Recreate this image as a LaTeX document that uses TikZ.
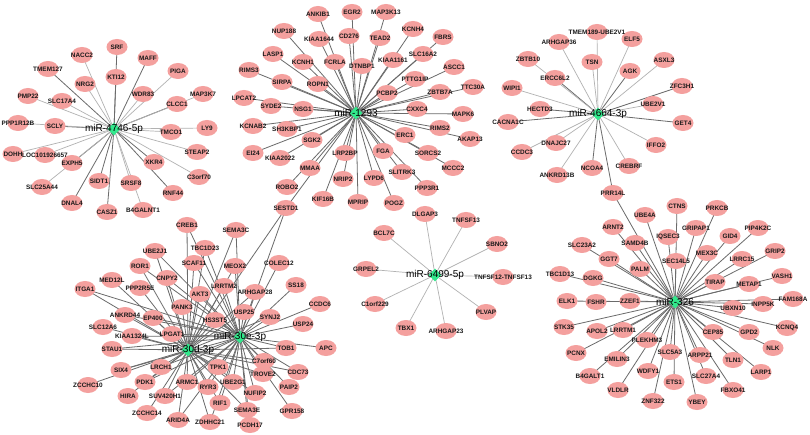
\documentclass[tikz,border=0pt]{standalone}
\usepackage{fontspec}
\setmainfont{Liberation Sans}
\usetikzlibrary{shapes.geometric}
\pgfdeclarelayer{bg}\pgfdeclarelayer{fg}
\pgfsetlayers{bg,main,fg}
\definecolor{nodepink}{RGB}{244,160,158}
\definecolor{mirgreen}{RGB}{50,232,140}
\tikzset{
 gene/.style={ellipse, fill=nodepink, minimum width=21pt, minimum height=16pt, inner sep=0pt},
 lbl/.style={font=\fontsize{6.4}{7}\selectfont\bfseries, inner sep=0pt, text=black!90},
 mir/.style={diamond, fill=mirgreen, minimum width=13pt, minimum height=13pt, inner sep=0pt},
 mlbl/.style={font=\fontsize{10}{11}\selectfont, inner sep=0pt, text=black},
 ed/.style={draw=black!58, line width=0.8pt},
 el/.style={draw=black!30, line width=0.7pt},
}
\newcommand\G[3]{\node[gene] (#1) at (#2) {};\begin{pgfonlayer}{fg}\node[lbl] (#1-t) at (#2) {#3};\end{pgfonlayer}}
\newcommand\M[3]{\node[mir] (#1) at (#2) {};\begin{pgfonlayer}{fg}\node[mlbl] (#1-t) at (#2) {#3};\end{pgfonlayer}}
\newcommand\E[3]{\foreach \t in {#3} {\draw[#1] (#2.center) -- (\t.center);}}
\begin{document}
\begin{tikzpicture}[x=1pt,y=-1pt]
\useasboundingbox (0,0) rectangle (810,435);
\begin{pgfonlayer}{bg}\fill[white] (0,0) rectangle (810,435);\end{pgfonlayer}
% ---------- miR-4746-5p
\M{m4746}{114,129}{miR-4746-5p}
\G{SRF}{117,47}{SRF}\G{KTI12}{116,77}{KTI12}\G{NACC2}{82,55}{NACC2}\G{MAFF}{148,58}{MAFF}
\G{TMEM127}{48,69}{TMEM127}\G{PIGA}{178,71}{PIGA}\G{NRG2}{85,84}{NRG2}\G{WDR83}{143,94}{WDR83}
\G{MAP3K7}{203,94}{MAP3K7}\G{PMP22}{28,96}{PMP22}\G{SLC17A4}{62,101}{SLC17A4}\G{CLCC1}{177,104}{CLCC1}
\G{PPP1R12B}{18,123}{PPP1R12B}\G{SCLY}{55,126}{SCLY}\G{TMCO1}{171,132}{TMCO1}\G{LY9}{207,128}{LY9}
\G{DOHH}{13,154}{DOHH}\G{LOC101926657}{45,155}{LOC101926657}\G{EXPH5}{72,163}{EXPH5}\G{XKR4}{154,162}{XKR4}
\G{STEAP2}{197,152}{STEAP2}\G{C3orf70}{199,177}{C3orf70}\G{SLC25A44}{42,187}{SLC25A44}\G{SIDT1}{99,181}{SIDT1}
\G{SRSF8}{131,183}{SRSF8}\G{RNF44}{173,193}{RNF44}\G{DNAL4}{72,203}{DNAL4}\G{CASZ1}{107,212}{CASZ1}
\G{B4GALNT1}{143,210}{B4GALNT1}
% ---------- miR-1293
\M{m1293}{356,113}{miR-1293}
\G{ANKIB1}{318,14}{ANKIB1}\G{EGR2}{352,12}{EGR2}\G{MAP3K13}{386,12}{MAP3K13}\G{NUP188}{284,31}{NUP188}
\G{KIAA1644}{319,39}{KIAA1644}\G{CD276}{349,36}{CD276}\G{TEAD2}{380,38}{TEAD2}\G{KCNH4}{413,29}{KCNH4}
\G{LASP1}{273,54}{LASP1}\G{KCNH1}{303,62}{KCNH1}\G{FCRLA}{335,62}{FCRLA}\G{DTNBP1}{362,66}{DTNBP1}
\G{KIAA1161}{393,60}{KIAA1161}\G{FBRS}{443,37}{FBRS}\G{SLC16A2}{423,54}{SLC16A2}\G{RIMS3}{249,70}{RIMS3}
\G{SIRPA}{282,82}{SIRPA}\G{ROPN1}{318,84}{ROPN1}\G{PTTG1IP}{415,79}{PTTG1IP}\G{ASCC1}{454,67}{ASCC1}
\G{PCBP2}{387,93}{PCBP2}\G{ZBTB7A}{440,92}{ZBTB7A}\G{TTC30A}{473,87}{TTC30A}\G{LPCAT2}{244,98}{LPCAT2}
\G{SYDE2}{271,106}{SYDE2}\G{NSG1}{303,109}{NSG1}\G{CXXC4}{417,109}{CXXC4}\G{MAPK6}{463,114}{MAPK6}
\G{KCNAB2}{253,126}{KCNAB2}\G{SH3KBP1}{287,129}{SH3KBP1}\G{RIMS2}{440,128}{RIMS2}\G{AKAP13}{470,139}{AKAP13}
\G{ERC1}{405,135}{ERC1}\G{SGK2}{312,140}{SGK2}\G{EI24}{253,153}{EI24}\G{KIAA2022}{280,158}{KIAA2022}
\G{MMAA}{310,168}{MMAA}\G{LRP2BP}{345,153}{LRP2BP}\G{FGA}{383,151}{FGA}\G{SORCS2}{428,153}{SORCS2}
\G{MCCC2}{453,168}{MCCC2}\G{SLITRK3}{402,172}{SLITRK3}\G{PPP3R1}{427,188}{PPP3R1}\G{ROBO2}{287,187}{ROBO2}
\G{NRIP2}{343,179}{NRIP2}\G{LYPD6}{374,178}{LYPD6}\G{KIF16B}{323,199}{KIF16B}\G{MPRIP}{358,202}{MPRIP}
\G{POGZ}{394,203}{POGZ}\G{SESTD1}{286,208}{SESTD1}
% ---------- miR-4664-3p
\M{m4664}{598,114}{miR-4664-3p}
\G{TMEM189}{597,32}{TMEM189-UBE2V1}\G{ELF5}{632,39}{ELF5}\G{ARHGAP36}{559,42}{ARHGAP36}\G{TSN}{592,62}{TSN}
\G{ZBTB10}{528,59}{ZBTB10}\G{AGK}{630,71}{AGK}\G{ASXL3}{664,60}{ASXL3}\G{ERCC6L2}{555,78}{ERCC6L2}
\G{ZFC3H1}{682,86}{ZFC3H1}\G{WIPI1}{512,88}{WIPI1}\G{UBE2V1}{653,104}{UBE2V1}\G{HECTD3}{540,109}{HECTD3}
\G{CACNA1C}{508,122}{CACNA1C}\G{GET4}{683,123}{GET4}\G{DNAJC27}{556,143}{DNAJC27}\G{IFFO2}{656,145}{IFFO2}
\G{CCDC3}{522,152}{CCDC3}\G{ANKRD13B}{557,175}{ANKRD13B}\G{NCOA4}{592,168}{NCOA4}\G{CREBRF}{629,166}{CREBRF}
\G{PRR14L}{613,193}{PRR14L}
% ---------- miR-6499-5p
\M{m6499}{435,275}{miR-6499-5p}
\G{DLGAP3}{425,214}{DLGAP3}\G{TNFSF13}{466,220}{TNFSF13}\G{BCL7C}{384,233}{BCL7C}\G{SBNO2}{497,244}{SBNO2}
\G{GRPEL2}{366,269}{GRPEL2}\G{TNFSF12}{503,277}{TNFSF12-TNFSF13}\G{C1orf229}{375,304}{C1orf229}
\G{TBX1}{406,328}{TBX1}\G{ARHGAP23}{446,331}{ARHGAP23}\G{PLVAP}{486,312}{PLVAP}
% ---------- miR-326
\M{m326}{675,302}{miR-326}
\G{CTNS}{677,206}{CTNS}\G{PRKCB}{717,208}{PRKCB}\G{UBE4A}{645,215}{UBE4A}\G{ARNT2}{613,227}{ARNT2}
\G{GRIPAP1}{696,228}{GRIPAP1}\G{PIP4K2C}{758,228}{PIP4K2C}\G{IQSEC3}{668,237}{IQSEC3}\G{GID4}{730,236}{GID4}
\G{SAMD4B}{635,243}{SAMD4B}\G{SLC23A2}{582,245}{SLC23A2}\G{GRIP2}{775,251}{GRIP2}\G{MEX3C}{707,253}{MEX3C}
\G{GGT7}{609,259}{GGT7}\G{SEC14L5}{676,261}{SEC14L5}\G{LRRC15}{742,259}{LRRC15}\G{PALM}{640,269}{PALM}
\G{TBC1D13}{560,274}{TBC1D13}\G{DGKG}{593,278}{DGKG}\G{VASH1}{782,276}{VASH1}\G{TIRAP}{715,282}{TIRAP}
\G{METAP1}{749,284}{METAP1}\G{FAM168A}{793,299}{FAM168A}\G{ELK1}{567,301}{ELK1}\G{FSHR}{596,302}{FSHR}
\G{ZZEF1}{630,301}{ZZEF1}\G{INPP5K}{763,304}{INPP5K}\G{UBXN10}{733,308}{UBXN10}\G{KCNQ4}{787,328}{KCNQ4}
\G{STK35}{564,327}{STK35}\G{APOL2}{597,331}{APOL2}\G{LRRTM1}{623,330}{LRRTM1}\G{CEP85}{713,332}{CEP85}
\G{GPD2}{749,332}{GPD2}\G{PLEKHM3}{647,340}{PLEKHM3}\G{PCNX}{576,353}{PCNX}\G{NLK}{773,348}{NLK}
\G{EMILIN3}{617,359}{EMILIN3}\G{SLC5A3}{670,352}{SLC5A3}\G{ARPP21}{700,355}{ARPP21}\G{TLN1}{733,360}{TLN1}
\G{LARP1}{761,372}{LARP1}\G{B4GALT1}{590,376}{B4GALT1}\G{WDFY1}{648,371}{WDFY1}\G{ETS1}{674,382}{ETS1}
\G{SLC27A4}{706,376}{SLC27A4}\G{VLDLR}{618,390}{VLDLR}\G{FBXO41}{733,390}{FBXO41}\G{ZNF322}{653,401}{ZNF322}
\G{YBEY}{697,402}{YBEY}
% ---------- miR-30d-3p / miR-30e-3p
\M{m30d}{188,350}{miR-30d-3p}
\M{m30e}{240,337}{miR-30e-3p}
\G{CREB1}{187,225}{CREB1}\G{SEMA3C}{236,230}{SEMA3C}\G{TBC1D23}{205,248}{TBC1D23}\G{SCAF11}{194,263}{SCAF11}
\G{UBE2J1}{155,251}{UBE2J1}\G{COLEC12}{279,263}{COLEC12}\G{ROR1}{140,266}{ROR1}\G{MEOX2}{235,266}{MEOX2}
\G{CNPY2}{167,278}{CNPY2}\G{MED12L}{112,280}{MED12L}\G{LRRTM2}{224,286}{LRRTM2}\G{ARHGAP28}{255,292}{ARHGAP28}
\G{SS18}{296,285}{SS18}\G{PPP2R5E}{140,288}{PPP2R5E}\G{ITGA1}{85,289}{ITGA1}\G{AKT3}{200,294}{AKT3}
\G{PANK3}{182,307}{PANK3}\G{CCDC6}{320,304}{CCDC6}\G{USP25}{244,312}{USP25}\G{SYNJ2}{270,317}{SYNJ2}
\G{ANKRD44}{125,315}{ANKRD44}\G{EP400}{153,318}{EP400}\G{HS3ST5}{215,320}{HS3ST5}\G{USP24}{303,324}{USP24}
\G{SLC12A6}{103,327}{SLC12A6}\G{KIAA1324L}{132,336}{KIAA1324L}\G{LPGAT1}{172,334}{LPGAT1}\G{STAU1}{112,349}{STAU1}
\G{TOB1}{286,348}{TOB1}\G{APC}{326,348}{APC}\G{SIX4}{121,370}{SIX4}\G{LRCH1}{161,367}{LRCH1}
\G{C7orf60}{264,361}{C7orf60}\G{TPK1}{218,367}{TPK1}\G{CDC73}{298,372}{CDC73}\G{ZCCHC10}{88,385}{ZCCHC10}
\G{PDK1}{145,382}{PDK1}\G{ARMC1}{187,382}{ARMC1}\G{TROVE2}{263,374}{TROVE2}\G{UBE2G1}{233,382}{UBE2G1}
\G{RYR3}{208,387}{RYR3}\G{PAIP2}{289,387}{PAIP2}\G{HIRA}{128,396}{HIRA}\G{SUV420H1}{165,396}{SUV420H1}
\G{NUFIP2}{255,393}{NUFIP2}\G{RIF1}{220,403}{RIF1}\G{SEMA3E}{247,410}{SEMA3E}\G{GPR158}{292,411}{GPR158}
\G{ZCCHC14}{147,413}{ZCCHC14}\G{ARID4A}{178,420}{ARID4A}\G{ZDHHC21}{210,422}{ZDHHC21}\G{PCDH17}{250,425}{PCDH17}
% ---------- edges
\begin{pgfonlayer}{bg}
\E{ed}{m4746}{SRF,KTI12,TMEM127,MAFF,CLCC1,SCLY,DNAL4,EXPH5,SIDT1,XKR4,RNF44,CASZ1}
\E{el}{m4746}{NACC2,PIGA,NRG2,WDR83,PMP22,SLC17A4,PPP1R12B,TMCO1,LY9,MAP3K7,DOHH,LOC101926657,STEAP2,C3orf70,SLC25A44,SRSF8,B4GALNT1}
\E{ed}{m1293}{ANKIB1,EGR2,MAP3K13,NUP188,KIAA1644,CD276,TEAD2,KCNH4,LASP1,KCNH1,FCRLA,DTNBP1,KIAA1161,FBRS,SLC16A2,RIMS3,SIRPA,ROPN1,PTTG1IP,ASCC1,PCBP2,ZBTB7A,TTC30A,LPCAT2,SYDE2,NSG1,CXXC4,MAPK6,KCNAB2,SH3KBP1,RIMS2,AKAP13,ERC1,SGK2,EI24,KIAA2022,MMAA,LRP2BP,FGA,SORCS2,MCCC2,SLITRK3,PPP3R1,ROBO2,NRIP2,LYPD6,KIF16B,MPRIP,POGZ,SESTD1}
\E{ed}{m4664}{ERCC6L2,AGK,CACNA1C,GET4,ZFC3H1,NCOA4,HECTD3,PRR14L}
\E{el}{m4664}{TMEM189,ELF5,ARHGAP36,TSN,ZBTB10,ASXL3,WIPI1,UBE2V1,DNAJC27,IFFO2,CCDC3,ANKRD13B,CREBRF}
\E{el}{m6499}{DLGAP3,TNFSF13,BCL7C,SBNO2,GRPEL2,TNFSF12,C1orf229,TBX1,ARHGAP23,PLVAP}
\E{ed}{m326}{PRR14L,CTNS,PRKCB,UBE4A,ARNT2,GRIPAP1,PIP4K2C,IQSEC3,GID4,SAMD4B,SLC23A2,GRIP2,MEX3C,GGT7,SEC14L5,LRRC15,PALM,TBC1D13,DGKG,VASH1,TIRAP,METAP1,FAM168A,ELK1,ZZEF1,INPP5K,UBXN10,KCNQ4,STK35,APOL2,LRRTM1,CEP85,GPD2,PLEKHM3,PCNX,NLK,EMILIN3,SLC5A3,ARPP21,TLN1,LARP1,B4GALT1,WDFY1,ETS1,SLC27A4,VLDLR,FBXO41,ZNF322,YBEY}
\E{ed}{m30d}{CREB1,UBE2J1,ROR1,CNPY2,MED12L,PPP2R5E,ITGA1,PANK3,ANKRD44,EP400,SLC12A6,KIAA1324L,LPGAT1,STAU1,SIX4,LRCH1,ZCCHC10,PDK1,ARMC1,HIRA,SUV420H1,ZCCHC14,ARID4A,ZDHHC21,RYR3,RIF1,TPK1,UBE2G1,TBC1D23,SCAF11,AKT3,HS3ST5,MEOX2,LRRTM2,SEMA3C,SESTD1,USP25,ARHGAP28,TOB1,C7orf60,TROVE2,NUFIP2,SEMA3E,CDC73,SYNJ2}
\E{ed}{m30e}{SEMA3C,MEOX2,COLEC12,LRRTM2,ARHGAP28,SS18,CCDC6,USP25,SYNJ2,USP24,HS3ST5,TOB1,APC,C7orf60,CDC73,TROVE2,PAIP2,NUFIP2,GPR158,SEMA3E,PCDH17,UBE2G1,TPK1,RYR3,RIF1,ZDHHC21,AKT3,PANK3,SESTD1,TBC1D23,SCAF11,CNPY2,ROR1,UBE2J1,CREB1,LPGAT1,EP400,ANKRD44,ITGA1,SIX4,LRCH1,ARMC1,SUV420H1,PDK1,ARID4A,KIAA1324L,STAU1}
\end{pgfonlayer}
\end{tikzpicture}
\end{document}
